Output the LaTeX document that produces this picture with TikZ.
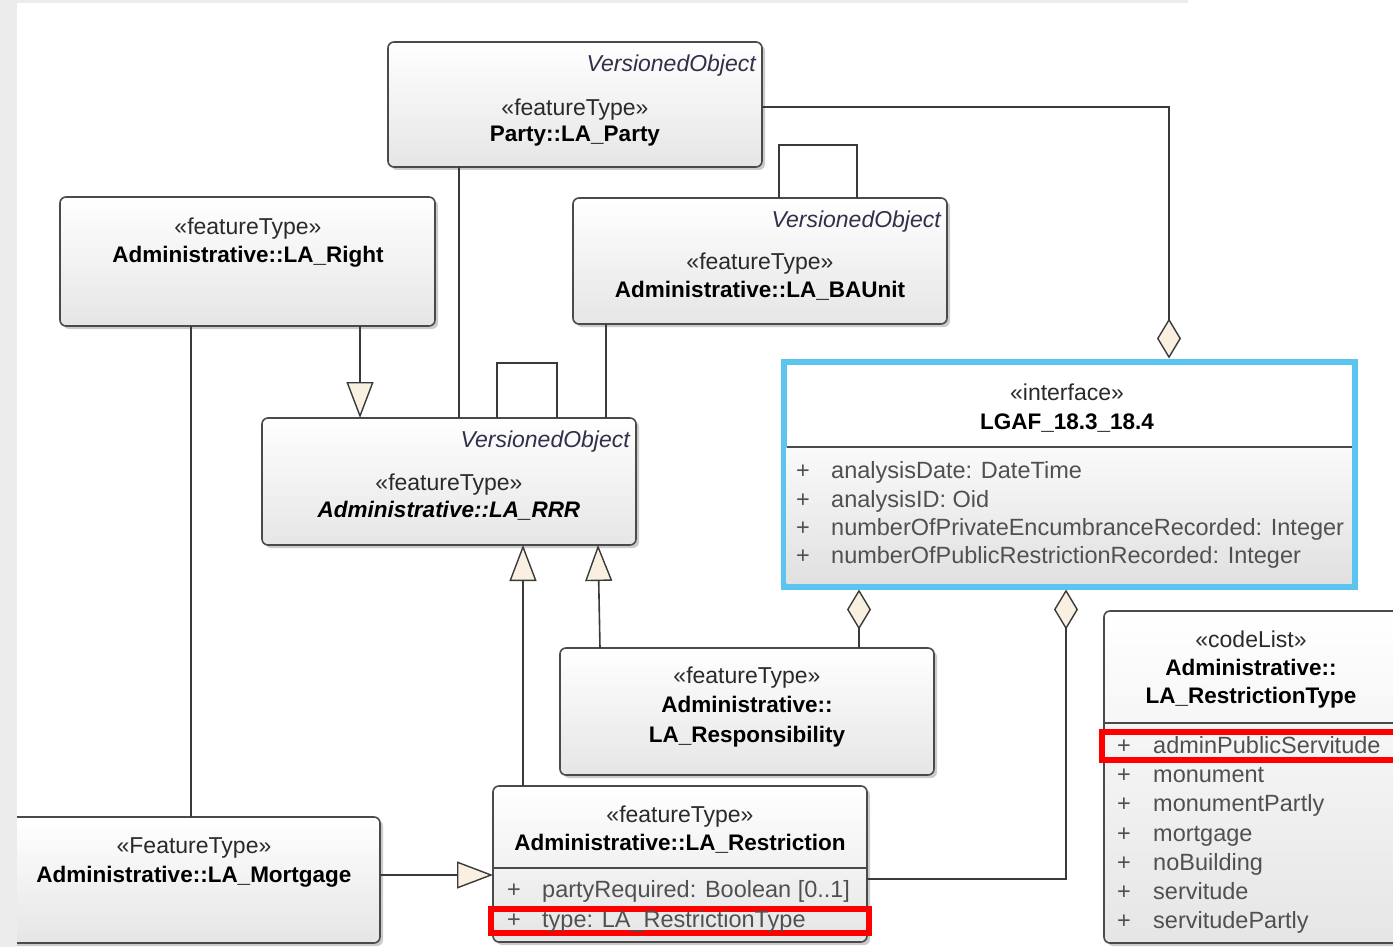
\documentclass[tikz,border=0pt]{standalone}
\usepackage{fontspec}
\setmainfont{Liberation Sans}
\usetikzlibrary{arrows.meta,shadows}
\definecolor{cream}{HTML}{FAF0E1}
\definecolor{bord}{HTML}{4A4A4A}
\definecolor{lin}{HTML}{3A3A3A}
\definecolor{iblue}{HTML}{5BC5F0}
\definecolor{hred}{HTML}{FF0000}
\definecolor{txt}{HTML}{2A2A2A}
\definecolor{atxt}{HTML}{505050}
\definecolor{votxt}{HTML}{30304A}
\definecolor{bgstrip}{HTML}{ECECEC}
\begin{document}
\begin{tikzpicture}[x=1pt,y=-1pt,
  umlbox/.style={draw=bord, line width=1.6pt, rounded corners=6pt, top color=white, bottom color=black!10,
    drop shadow={shadow xshift=3pt, shadow yshift=-3pt, fill=black!45, opacity=0.45},
    anchor=north west, inner sep=0pt, outer sep=0pt},
  st/.style={anchor=base, inner sep=0pt, text=txt, font=\fontsize{23}{26}\selectfont},
  bt/.style={anchor=base, inner sep=0pt, text=black, font=\fontsize{22.5}{26}\selectfont\bfseries},
  vo/.style={anchor=base east, inner sep=0pt, text=votxt, font=\fontsize{23}{26}\selectfont\itshape},
  attr/.style={anchor=base west, inner sep=0pt, text=atxt, font=\fontsize{23.5}{26}\selectfont},
  sepline/.style={draw=bord, line width=1.6pt},
  conn/.style={draw=lin, line width=1.6pt},
  gen/.style={conn, -{Triangle[length=36pt, width=27pt, fill=cream, line width=1.4pt]}},
  agg/.style={conn, {Diamond[length=40pt, width=24pt, fill=cream, line width=1.4pt]}-},
  hl/.style={draw=hred, line width=6pt}
]
\useasboundingbox (0,0) rectangle (1393,947);
\fill[white] (0,0) rectangle (1393,947);
% ---- boxes ----
\node[umlbox, minimum width=374pt, minimum height=125pt] (party) at (388,42) {};
\node[umlbox, minimum width=375pt, minimum height=129pt] (right) at (60,197) {};
\node[umlbox, minimum width=374pt, minimum height=126pt] (bau) at (573,198) {};
\node[umlbox, minimum width=374pt, minimum height=127pt] (rrr) at (262,418) {};
\node[umlbox, minimum width=374pt, minimum height=127pt] (resp) at (560,648) {};
\node[umlbox, minimum width=374pt, minimum height=156pt] (restr) at (493,786) {};
\node[umlbox, minimum width=375pt, minimum height=126pt] (mort) at (5,817) {};
\node[umlbox, minimum width=300pt, minimum height=332pt] (code) at (1104,611) {};
\node[draw=iblue, line width=6pt, fill=white, anchor=north west, inner sep=0pt, outer sep=3pt,
  minimum width=571pt, minimum height=225pt] (iface) at (780.5,358.5) {};
% compartments
\shade[top color=black!2, bottom color=black!12] (786.5,447) rectangle (1351.5,583.5);
\draw[sepline] (786.5,447) -- (1351.5,447);
\draw[sepline] (493.8,868) -- (866.2,868);
\draw[sepline] (1104.8,723) -- (1393,723);
% ---- connectors ----
\coordinate (pA) at (1169,107);
\draw[agg] (iface.north -| pA) -- (pA) -- (party.east |- pA);
\coordinate (x459) at (459,0);
\draw[conn] (party.south -| x459) -- (rrr.north -| x459);
\coordinate (x360) at (360,0);
\draw[gen] (right.south -| x360) -- (rrr.north -| x360);
\coordinate (x191) at (191,0);
\draw[conn] (right.south -| x191) -- (mort.north -| x191);
\coordinate (x606) at (606,0);
\draw[conn] (bau.south -| x606) -- (rrr.north -| x606);
\coordinate (bl1) at (779,145);
\coordinate (bl2) at (857,145);
\draw[conn] (bau.north -| bl1) -- (bl1) -- (bl2) -- (bau.north -| bl2);
\coordinate (rl1) at (497,363);
\coordinate (rl2) at (557,363);
\draw[conn] (rrr.north -| rl1) -- (rl1) -- (rl2) -- (rrr.north -| rl2);
\coordinate (x523) at (523,0);
\draw[gen] (restr.north -| x523) -- (rrr.south -| x523);
\coordinate (x600) at (600,0);
\coordinate (x598) at (598,0);
\draw[gen] (resp.north -| x600) -- (rrr.south -| x598);
\coordinate (x859) at (859,0);
\draw[agg] (iface.south -| x859) -- (resp.north -| x859);
\coordinate (pB) at (1066,879);
\draw[agg] (iface.south -| pB) -- (pB) -- (restr.east |- pB);
\coordinate (y875) at (0,875);
\draw[gen] (mort.east |- y875) -- (restr.west |- y875);
% ---- highlight boxes ----
\draw[hl] (491,909) rectangle (869,933);
\draw[hl] (1102,732) rectangle (1400,760);
% ---- texts ----
\node[vo] (partyvo) at (756,72) {VersionedObject};
\node[st] (partyst) at (575,116) {«featureType»};
\node[bt] (partynm) at (575,142) {Party::LA\_Party};

\node[st] (rightst) at (248,234) {«featureType»};
\node[bt] (rightnm) at (248,262) {Administrative::LA\_Right};

\node[vo] (bauvo) at (941,227) {VersionedObject};
\node[st] (baust) at (760,269) {«featureType»};
\node[bt] (baunm) at (760,297) {Administrative::LA\_BAUnit};

\node[vo] (rrrvo) at (630,447) {VersionedObject};
\node[st] (rrrst) at (449,490) {«featureType»};
\node[bt, font=\fontsize{22.5}{26}\selectfont\bfseries\itshape] (rrrnm) at (449,517) {Administrative::LA\_RRR};

\node[st] (ifacest) at (1067,400) {«interface»};
\node[bt] (ifacenm) at (1067,429) {LGAF\_18.3\_18.4};
\node[attr] (ip1) at (796,478) {+};
\node[attr] (ia1) at (831,478) {analysisDate: DateTime};
\node[attr] (ip2) at (796,507) {+};
\node[attr] (ia2) at (831,507) {analysisID: Oid};
\node[attr] (ip3) at (796,535) {+};
\node[attr] (ia3) at (831,535) {numberOfPrivateEncumbranceRecorded: Integer};
\node[attr] (ip4) at (796,563) {+};
\node[attr] (ia4) at (831,563) {numberOfPublicRestrictionRecorded: Integer};

\node[st] (respst) at (747,683) {«featureType»};
\node[bt] (respnm1) at (747,712) {Administrative::};
\node[bt] (respnm2) at (747,742) {LA\_Responsibility};

\node[st] (restrst) at (680,822) {«featureType»};
\node[bt] (restrnm) at (680,850) {Administrative::LA\_Restriction};
\node[attr] (rp1) at (507,897) {+};
\node[attr] (ra1) at (542,897) {partyRequired: Boolean [0..1]};
\node[attr] (rp2) at (507,927) {+};
\node[attr] (ra2) at (542,927) {type: LA\_RestrictionType};

\node[st] (mortst) at (194,853) {«FeatureType»};
\node[bt] (mortnm) at (194,882) {Administrative::LA\_Mortgage};

\node[st] (codest) at (1251,647) {«codeList»};
\node[bt] (codenm1) at (1251,675) {Administrative::};
\node[bt] (codenm2) at (1251,703) {LA\_RestrictionType};
\foreach \t [count=\i] in {adminPublicServitude,monument,monumentPartly,mortgage,noBuilding,servitude,servitudePartly} {
  \node[attr] (cp\i) at (1117,{753.5+29.2*(\i-1)}) {+};
  \node[attr] (ci\i) at (1153,{753.5+29.2*(\i-1)}) {\t};
}
% ---- background strips ----
\fill[bgstrip] (0,0) rectangle (17,947);
\fill[bgstrip] (17,0) rectangle (1188,3);
\end{tikzpicture}
\end{document}
